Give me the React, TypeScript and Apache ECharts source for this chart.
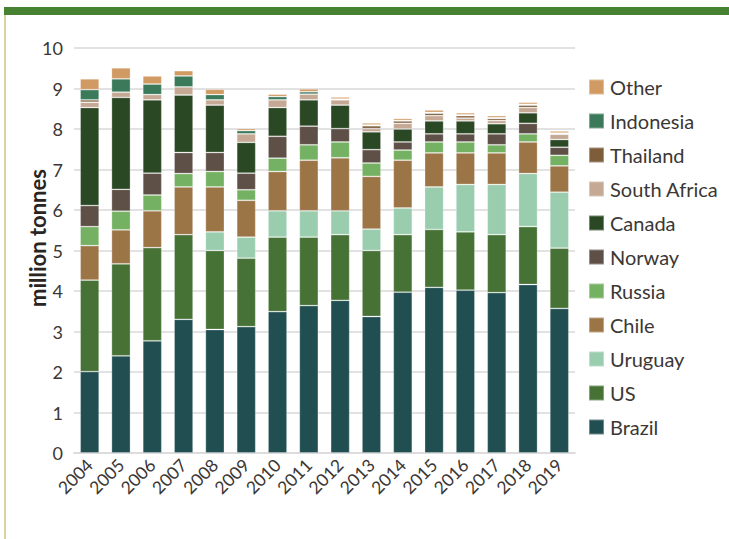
import React, { useEffect, useRef } from "react";
import * as echarts from "echarts";

const years = ["2004", "2005", "2006", "2007", "2008", "2009", "2010", "2011", "2012", "2013", "2014", "2015", "2016", "2017", "2018", "2019"];

// million tonnes, stacked bottom to top
const brazil = [2.01, 2.40, 2.77, 3.30, 3.05, 3.12, 3.49, 3.64, 3.77, 3.37, 3.97, 4.09, 4.02, 3.96, 4.16, 3.57];
const us = [2.26, 2.27, 2.30, 2.09, 1.95, 1.69, 1.84, 1.69, 1.62, 1.63, 1.42, 1.43, 1.44, 1.43, 1.43, 1.49];
const uruguay = [0, 0, 0, 0, 0.46, 0.52, 0.65, 0.65, 0.59, 0.53, 0.66, 1.05, 1.17, 1.24, 1.31, 1.38];
const chile = [0.85, 0.84, 0.91, 1.18, 1.11, 0.91, 0.97, 1.25, 1.31, 1.30, 1.18, 0.84, 0.78, 0.78, 0.78, 0.65];
const russia = [0.47, 0.46, 0.39, 0.33, 0.38, 0.26, 0.33, 0.38, 0.39, 0.33, 0.25, 0.27, 0.27, 0.20, 0.20, 0.26];
const norway = [0.52, 0.54, 0.54, 0.52, 0.47, 0.41, 0.54, 0.46, 0.33, 0.33, 0.20, 0.20, 0.20, 0.27, 0.26, 0.20];
const canada = [2.42, 2.27, 1.81, 1.42, 1.17, 0.76, 0.71, 0.65, 0.58, 0.44, 0.32, 0.32, 0.32, 0.25, 0.26, 0.19];
const southAfrica = [0.13, 0.13, 0.13, 0.20, 0.13, 0.21, 0.19, 0.14, 0.13, 0.08, 0.14, 0.13, 0.07, 0.08, 0.13, 0.13];
const thailand = [0.06, 0, 0, 0, 0, 0, 0, 0, 0.02, 0.07, 0.06, 0.06, 0.06, 0.05, 0.06, 0.02];
const indonesia = [0.25, 0.33, 0.26, 0.27, 0.13, 0.08, 0.08, 0.06, 0, 0.02, 0.01, 0.02, 0.02, 0.02, 0.02, 0.01];
const other = [0.27, 0.27, 0.20, 0.13, 0.13, 0.05, 0.06, 0.07, 0.05, 0.05, 0.05, 0.06, 0.05, 0.05, 0.05, 0.05];

const seriesDefs = [
  { name: "Brazil", data: brazil, color: "#214f51" },
  { name: "US", data: us, color: "#467236" },
  { name: "Uruguay", data: uruguay, color: "#99cdae" },
  { name: "Chile", data: chile, color: "#9c7547" },
  { name: "Russia", data: russia, color: "#75b162" },
  { name: "Norway", data: norway, color: "#5e5046" },
  { name: "Canada", data: canada, color: "#2b4824" },
  { name: "South Africa", data: southAfrica, color: "#c5a994" },
  { name: "Thailand", data: thailand, color: "#7d5d3a" },
  { name: "Indonesia", data: indonesia, color: "#3a7a5b" },
  { name: "Other", data: other, color: "#d19a63" },
];

const yTicks = [0, 1, 2, 3, 4, 5, 6, 7, 8, 9, 10];

const FONT = "Lato, 'Open Sans', sans-serif";
const TEXT = "#3b3734";

export default function App() {
  const ref = useRef<HTMLDivElement>(null);

  useEffect(() => {
    if (!ref.current) return;
    const chart = echarts.init(ref.current, null, { renderer: "svg" });
    chart.setOption({
      animation: false,
      textStyle: { fontFamily: FONT },
      grid: { left: 74, right: 154, top: 48, bottom: 86, containLabel: false },
      legend: {
        orient: "vertical",
        left: 588,
        top: 77,
        padding: 0,
        icon: "rect",
        itemWidth: 15,
        itemHeight: 15,
        itemGap: 14,
        textStyle: { fontSize: 20, color: TEXT, fontFamily: FONT, lineHeight: 20, padding: [0, 0, 0, 1] },
        data: seriesDefs.map((s) => s.name).reverse(),
      },
      xAxis: {
        type: "category",
        data: years,
        axisLine: { lineStyle: { color: "#dcdcdc", width: 2 } },
        axisTick: { inside: true, length: 8, lineStyle: { color: "#dcdcdc", width: 2 } },
        axisLabel: { interval: 0, rotate: 45, fontSize: 17.5, color: TEXT, margin: 9, fontFamily: FONT },
      },
      yAxis: {
        type: "value",
        min: yTicks[0],
        max: yTicks[yTicks.length - 1],
        interval: 1,
        axisLine: { show: false },
        axisTick: { show: false },
        axisLabel: { fontSize: 18, color: TEXT, margin: 11, fontFamily: FONT },
        splitLine: { lineStyle: { color: "#e2e2e2", width: 2 } },
      },
      series: seriesDefs.map((s) => ({
        name: s.name,
        type: "bar",
        stack: "total",
        barWidth: 19,
        data: s.data.map((v) => (v === 0 ? null : v)),
        itemStyle: { color: s.color, borderColor: "rgba(255,255,255,0.35)", borderWidth: 0.8 },
      })),
      graphic: [
        { type: "rect", left: 4, top: 7, shape: { width: 725, height: 8 }, style: { fill: "#478232" } },
        { type: "rect", left: 4, top: 15, shape: { width: 2, height: 524 }, style: { fill: "#d8d3a0" } },
        {
          type: "text",
          x: 37,
          y: 238,
          rotation: Math.PI / 2,
          style: {
            text: "million tonnes",
            fontSize: 22,
            fontWeight: "bold",
            fill: "#2a2522",
            fontFamily: FONT,
            align: "center",
            verticalAlign: "middle",
          },
        },
      ],
    });
    return () => chart.dispose();
  }, []);

  return <div ref={ref} style={{ position: "fixed", left: 0, top: 0, width: 729, height: 539, background: "#fff" }} />;
}
